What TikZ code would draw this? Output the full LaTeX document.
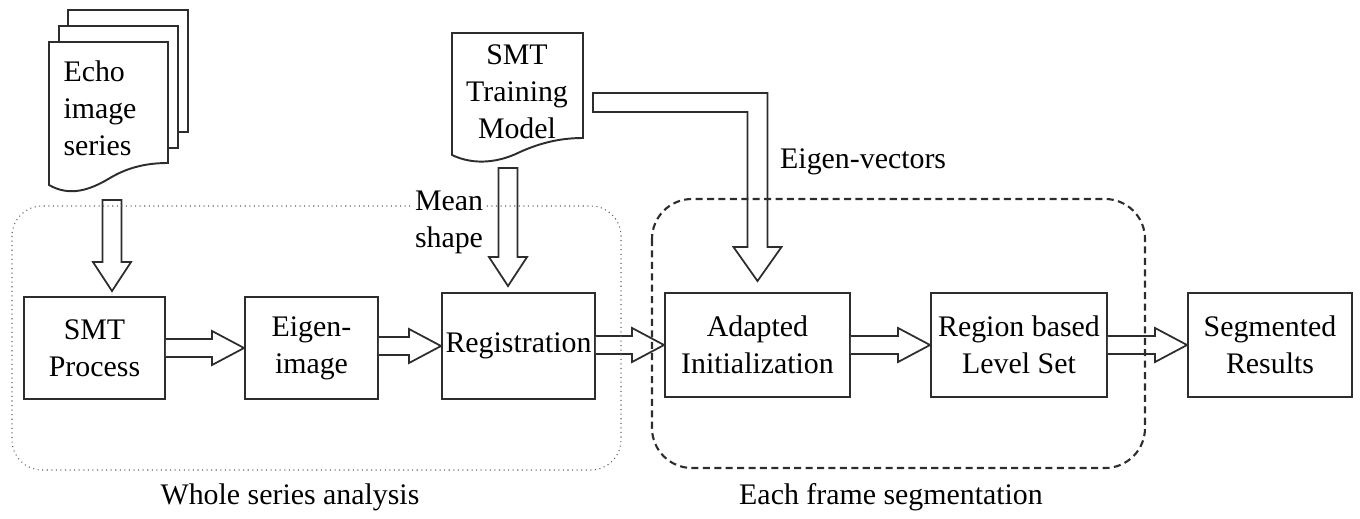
\documentclass[tikz,border=0pt]{standalone}
\usepackage{fontspec}
\setmainfont{Liberation Serif}
\usetikzlibrary{calc}
\definecolor{ink}{RGB}{45,45,45}
\tikzset{
  box/.style={draw=ink, line width=1.1pt, align=center, inner sep=2pt},
  docline/.style={draw=ink, line width=1.1pt, fill=white},
  hollow/.style={draw=ink, line width=1pt, fill=white, line join=miter},
  wholegroup/.style={draw=ink!75, line width=0.6pt, dotted, rounded corners=0.6cm},
  framegroup/.style={draw=ink, line width=1.2pt, dash pattern=on 4pt off 2.5pt, rounded corners=0.8cm},
}
% hollow arrow from the east side of #1 to the west side of #2
\newcommand{\hollowright}[2]{%
  \draw[hollow] ($(#1.east |- #2.west)+(0,-9)$) -- ($(#2.west)+(-32,-9)$) -- ($(#2.west)+(-32,-17)$)
    -- (#2.west) -- ($(#2.west)+(-32,17)$) -- ($(#2.west)+(-32,9)$) -- ($(#1.east |- #2.west)+(0,9)$);}
% hollow arrow pointing down from coordinate #1 to coordinate #2
\newcommand{\hollowdown}[2]{%
  \draw[hollow] ($(#1)+(-9.5,0)$) -- ($(#2)+(-9.5,-29)$) -- ($(#2)+(-19,-29)$) -- (#2)
    -- ($(#2)+(19,-29)$) -- ($(#2)+(9.5,-29)$) -- ($(#1)+(9.5,0)$) -- cycle;}
\begin{document}
\begin{tikzpicture}[x=0.02cm, y=-0.02cm, font=\fontsize{17}{21}\selectfont]
\useasboundingbox (0,0) rectangle (1360,518);

% input documents
\draw[docline] (68,10) rectangle (188,132);
\draw[docline] (59,26) rectangle (178,148);
\draw[docline] (49,42) -- (168,42) -- (168,163) .. controls (150,163) and (130,166) .. (110,178)
  .. controls (90,190) and (70,197) .. (49,185) -- cycle;
\node[align=left, inner sep=0pt] (echo) at (100,108) {Echo\\image\\series};

\draw[docline] (452,33) -- (583,33) -- (583,138) .. controls (560,138) and (540,143) .. (520,152)
  .. controls (500,162) and (475,166) .. (452,155) -- cycle;
\node[align=center, inner sep=0pt] (train) at (517,92) {SMT\\Training\\Model};

% processing boxes
\node[box, minimum width=2.82cm, minimum height=2.04cm] (smt) at (94.5,348) {SMT\\Process};
\node[box, minimum width=2.66cm, minimum height=2.04cm] (eigimg) at (311.5,348) {Eigen-\\image};
\node[box, minimum width=3.06cm, minimum height=2.12cm] (reg) at (518.5,346) {Registration};
\node[box, minimum width=3.7cm, minimum height=2.08cm] (adapt) at (757.5,345) {Adapted\\Initialization};
\node[box, minimum width=3.52cm, minimum height=2.08cm] (levelset) at (1019,345) {Region based\\Level Set};
\node[box, minimum width=3.28cm, minimum height=2.08cm] (result) at (1270,345) {Segmented\\Results};

% arrows
\coordinate (echoout) at (112,200);
\coordinate (smtin) at ($(smt.north -| echoout)+(0,-5)$);
\hollowdown{echoout}{smtin}
\coordinate (meanout) at (508,168);
\coordinate (regin) at ($(reg.north -| meanout)+(0,-6)$);
\hollowdown{meanout}{regin}
\hollowright{smt}{eigimg}
\hollowright{eigimg}{reg}
\hollowright{reg}{adapt}
\hollowright{adapt}{levelset}
\hollowright{levelset}{result}
\coordinate (trainout) at (593,102.5);
\coordinate (adaptin) at ($(adapt.north)+(0,-11)$);
\draw[hollow] ($(trainout)+(0,-9.5)$) -- ($(trainout -| adaptin)+(10,-9.5)$) -- ($(adaptin)+(10,-34)$)
  -- ($(adaptin)+(24,-34)$) -- (adaptin) -- ($(adaptin)+(-24,-34)$) -- ($(adaptin)+(-10,-34)$)
  -- ($(trainout -| adaptin)+(-10,9.5)$) -- ($(trainout)+(0,9.5)$) -- cycle;

% groups
\draw[wholegroup] (12,206) rectangle (621,470);
\draw[framegroup] (652,199) rectangle (1145,468);

% labels
\node[fill=white, align=left, inner sep=1pt] (meanlbl) at (449,222) {Mean\\shape};
\node[anchor=west] (eiglbl) at (774,162) {Eigen-vectors};
\node (wholelbl) at (290,497) {Whole series analysis};
\node (framelbl) at (891,497) {Each frame segmentation};
\end{tikzpicture}
\end{document}
